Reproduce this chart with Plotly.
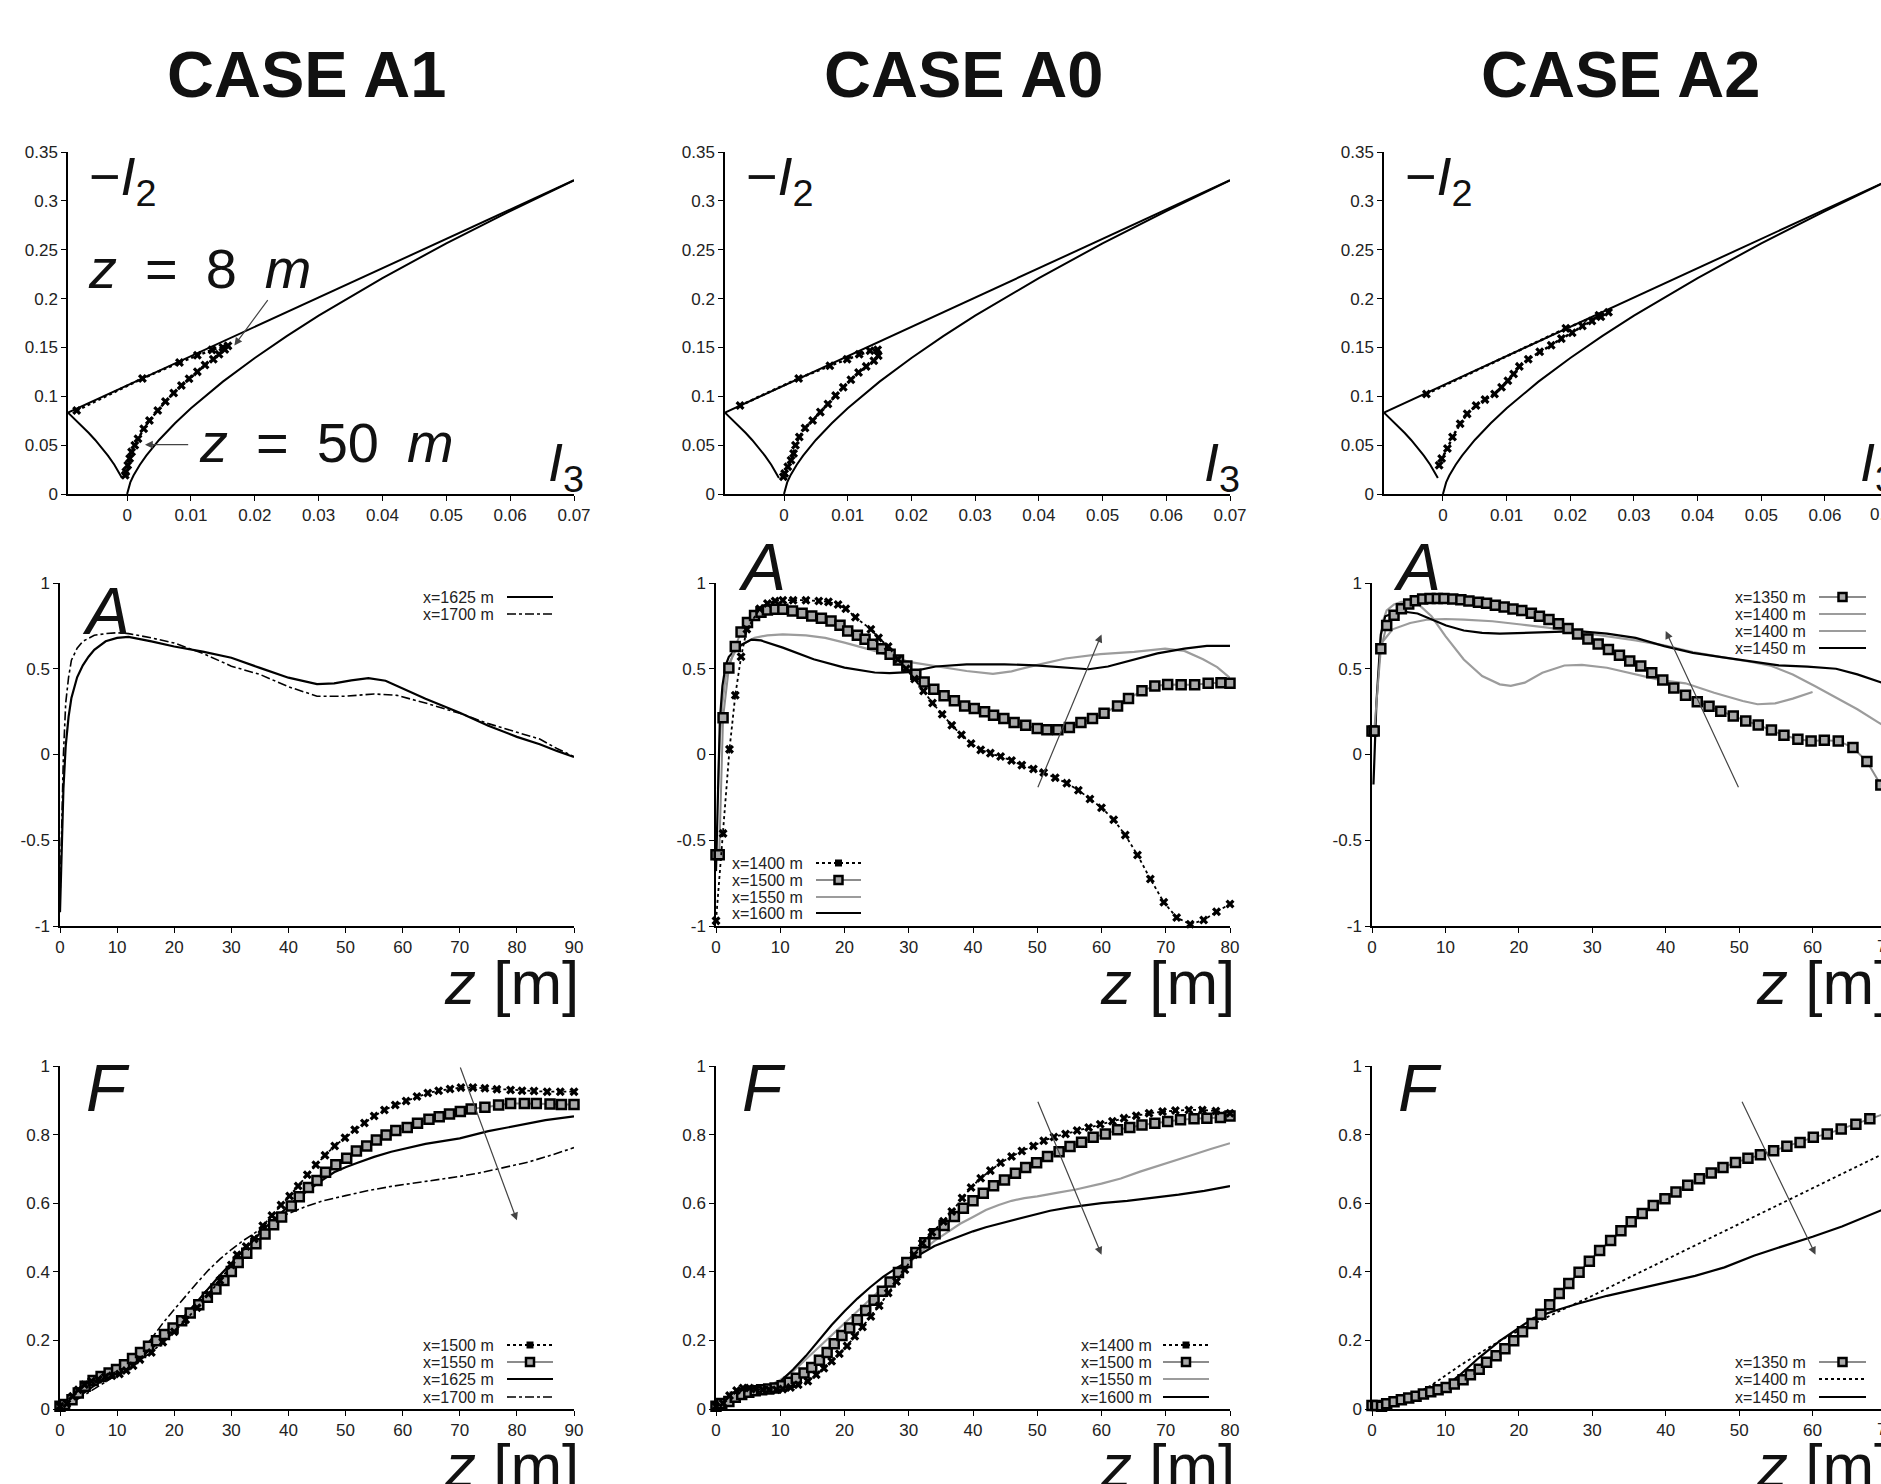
import plotly.graph_objects as go

W, H = 1881, 1484
FONT = "Liberation Sans, Arial, Helvetica, sans-serif"

# ===================== DATA =====================
# ---- Lumley triangle boundaries (I3, -I2) ----
tri_left_I3 = [-0.00926, -0.008, -0.007, -0.006, -0.005, -0.004, -0.003, -0.002, -0.0015, -0.0008]
tri_left_mI2 = [0.0833, 0.0756, 0.0692, 0.0624, 0.0553, 0.0476, 0.0393, 0.0300, 0.0248, 0.0163]
tri_right_I3 = [0.0, 0.0005, 0.001, 0.002, 0.003, 0.005, 0.0075, 0.01, 0.015, 0.02, 0.025, 0.03, 0.04, 0.05, 0.06, 0.07]
tri_right_mI2 = [0.0, 0.0119, 0.0189, 0.0300, 0.0393, 0.0553, 0.0724, 0.0877, 0.1150, 0.1392, 0.1616, 0.1825, 0.2210, 0.2565, 0.2896, 0.3210]
tri_top_I3 = [-0.00926, 0.07]
tri_top_mI2 = [0.0833, 0.3211]

# ---- invariant-map trajectories ----
traj_A1_I3 = [-0.0079, 0.0024, 0.0082, 0.011, 0.0133, 0.015, 0.0158, 0.0153, 0.0144, 0.0135, 0.0122, 0.011, 0.0097,
              0.0085, 0.0073, 0.006, 0.0048, 0.0035, 0.0026, 0.0017, 0.0012, 0.0007, 0.0004, 0.0001, -0.0002, -0.0003]
traj_A1_mI2 = [0.0855, 0.1183, 0.1346, 0.142, 0.1475, 0.150, 0.1516, 0.148, 0.143, 0.138, 0.132, 0.125, 0.118,
               0.111, 0.1034, 0.0946, 0.0855, 0.0753, 0.0668, 0.0566, 0.0498, 0.0431, 0.0363, 0.0295, 0.0227, 0.0193]
traj_A0_I3 = [-0.0069, 0.0023, 0.0072, 0.0099, 0.0118, 0.0135, 0.0147, 0.0148, 0.0141, 0.0129, 0.0117, 0.0105, 0.0093,
              0.0081, 0.0069, 0.0057, 0.0045, 0.0033, 0.0024, 0.0018, 0.0015, 0.0011, 0.0006, 0.0001, -0.0001]
traj_A0_mI2 = [0.0905, 0.1183, 0.1312, 0.138, 0.143, 0.1465, 0.1475, 0.1414, 0.1363, 0.1306, 0.1244, 0.117, 0.1092,
               0.1007, 0.0922, 0.0838, 0.0753, 0.0675, 0.0583, 0.0498, 0.0414, 0.0346, 0.0278, 0.021, 0.0176]
traj_A2_I3 = [-0.0026, 0.0193, 0.0245, 0.026, 0.0248, 0.0234, 0.0219, 0.0203, 0.0186, 0.017, 0.0152, 0.0134, 0.012,
              0.0111, 0.0102, 0.0092, 0.0081, 0.0066, 0.0052, 0.0038, 0.0027, 0.0015, 0.0007, -0.0002, -0.0006]
traj_A2_mI2 = [0.1024, 0.1695, 0.183, 0.186, 0.1814, 0.177, 0.172, 0.165, 0.159, 0.1523, 0.1455, 0.138, 0.1306,
               0.1228, 0.116, 0.1092, 0.1024, 0.0966, 0.0905, 0.082, 0.0719, 0.0583, 0.0465, 0.0363, 0.0295]

# ---- A(z), case A1 ----
A1_A_z1625 = [0, 0.3, 0.6, 1.0, 1.5, 2, 3, 4, 5, 6, 8, 10, 12, 16, 20, 25, 30, 35, 40, 45, 48, 51, 54, 57, 60, 64, 70, 75, 80, 84, 87, 90]
A1_A_1625 = [-0.92, -0.6, -0.2, 0.05, 0.22, 0.33, 0.45, 0.52, 0.57, 0.61, 0.66, 0.68, 0.686, 0.66, 0.63, 0.60, 0.564, 0.505,
             0.448, 0.41, 0.415, 0.432, 0.445, 0.43, 0.385, 0.325, 0.244, 0.167, 0.103, 0.06, 0.021, -0.015]
A1_A_z1700 = [0, 0.3, 0.6, 1.0, 1.5, 2, 3, 4, 5, 6, 8, 10, 12, 16, 20, 25, 30, 35, 40, 45, 50, 55, 59, 64, 70, 75, 80, 84, 87, 90]
A1_A_1700 = [-0.85, -0.4, 0.0, 0.3, 0.45, 0.55, 0.62, 0.66, 0.68, 0.695, 0.705, 0.71, 0.705, 0.68, 0.65, 0.59, 0.515, 0.467,
             0.395, 0.34, 0.34, 0.353, 0.345, 0.30, 0.24, 0.18, 0.13, 0.09, 0.035, -0.012]

# ---- A(z), case A0 ----
A0_A_z1400 = [0, 1.1, 2.1, 3.0, 3.9, 4.8, 6.8, 8.0, 9.2, 10.4, 12, 14, 16, 17.5, 19, 20.2, 21.7, 24.1, 25.3, 26.8,
              28.3, 29.6, 30.9, 32.3, 33.7, 35.2, 36.7, 38.2, 39.7, 41.2, 42.7, 44.3, 46, 47.6, 49.4, 51, 52.8, 54.6,
              56.4, 58.2, 60, 61.9, 63.7, 65.6, 67.6, 69.7, 71.7, 73.8, 75.9, 77.9, 80]
A0_A_1400 = [-0.97, -0.46, 0.03, 0.345, 0.57, 0.73, 0.85, 0.88, 0.895, 0.9, 0.9, 0.9, 0.895, 0.89, 0.875, 0.85, 0.80,
             0.73, 0.68, 0.63, 0.555, 0.50, 0.44, 0.37, 0.30, 0.235, 0.17, 0.115, 0.064, 0.027, 0.008, -0.012, -0.035,
             -0.062, -0.085, -0.105, -0.136, -0.167, -0.208, -0.26, -0.31, -0.38, -0.47, -0.586, -0.726, -0.862,
             -0.95, -0.99, -0.965, -0.917, -0.872]
A0_A_z1500 = [0, 0.5, 1.1, 2, 3, 3.9, 4.9, 6, 7, 8, 9.2, 10.4, 11.9, 13.4, 14.9, 16.4, 17.9, 19.3, 20.5, 22, 23.2, 24.4,
              25.8, 27.1, 28.4, 29.7, 31.1, 32.4, 33.9, 35.5, 37.1, 38.7, 40.2, 41.8, 43.2, 44.8, 46.4, 48.2, 50, 51.5,
              53.2, 55, 56.8, 58.6, 60.4, 62.5, 64.2, 66.3, 68.3, 70.3, 72.4, 74.5, 76.6, 78.6, 80]
A0_A_1500 = [-0.585, -0.585, 0.215, 0.505, 0.63, 0.715, 0.77, 0.81, 0.83, 0.843, 0.847, 0.847, 0.837, 0.823, 0.808,
             0.794, 0.779, 0.753, 0.72, 0.695, 0.672, 0.643, 0.617, 0.584, 0.551, 0.516, 0.468, 0.423, 0.38, 0.342,
             0.313, 0.283, 0.268, 0.249, 0.229, 0.21, 0.186, 0.171, 0.151, 0.144, 0.144, 0.157, 0.186, 0.21, 0.241,
             0.283, 0.326, 0.371, 0.40, 0.408, 0.406, 0.406, 0.416, 0.419, 0.415]
A0_A_z1550 = [0.3, 0.6, 1, 1.5, 2, 3, 4, 6, 8, 10.4, 14, 17, 20, 24.7, 30, 34.2, 39, 43.1, 46, 49.7, 54.4, 59.8, 65.1,
              69.9, 72.9, 75.8, 78, 80]
A0_A_1550 = [-0.2, 0.1, 0.3, 0.45, 0.53, 0.6, 0.64, 0.68, 0.695, 0.70, 0.695, 0.68, 0.652, 0.604, 0.54, 0.516, 0.487,
             0.47, 0.485, 0.52, 0.56, 0.585, 0.598, 0.617, 0.604, 0.555, 0.51, 0.447]
A0_A_z1600 = [0, 0.3, 0.6, 1, 1.5, 2, 3, 4, 5.5, 7, 10.4, 15.2, 20, 24.7, 27, 30, 34.2, 39, 44.9, 49.7, 54.4, 58, 61,
              64.5, 68.7, 72.9, 76.4, 80]
A0_A_1600 = [-0.68, -0.2, 0.2, 0.4, 0.52, 0.57, 0.61, 0.64, 0.67, 0.665, 0.623, 0.555, 0.507, 0.478, 0.474, 0.48, 0.513,
             0.526, 0.526, 0.52, 0.507, 0.497, 0.513, 0.55, 0.59, 0.617, 0.633, 0.633]

# ---- A(z), case A2 ----
A2_A_z1350 = [0, 0.3, 1.2, 2, 3, 4, 5, 5.9, 6.9, 7.9, 8.9, 9.8, 11, 12.1, 13.2, 14.5, 15.6, 16.8, 18, 19.2, 20.4, 21.7,
              22.8, 24.1, 25.4, 26.7, 28, 29.4, 30.8, 32.2, 33.7, 35.1, 36.6, 38.1, 39.6, 41.1, 42.7, 44.3, 45.9, 47.5,
              49.2, 50.9, 52.6, 54.4, 56.1, 58, 59.8, 61.6, 63.5, 65.5, 67.4, 69.3]
A2_A_1350 = [0.137, 0.137, 0.616, 0.752, 0.812, 0.85, 0.878, 0.897, 0.907, 0.91, 0.91, 0.91, 0.907, 0.903, 0.895, 0.888,
             0.882, 0.87, 0.86, 0.849, 0.839, 0.824, 0.806, 0.787, 0.762, 0.734, 0.703, 0.674, 0.645, 0.612, 0.578,
             0.545, 0.516, 0.477, 0.434, 0.388, 0.345, 0.308, 0.281, 0.252, 0.225, 0.196, 0.172, 0.143, 0.112, 0.089,
             0.079, 0.083, 0.079, 0.041, -0.041, -0.178]
A2_A_z1400a = [1, 1.5, 2, 3, 4, 6, 8.1, 10, 12.5, 15, 17.4, 18.9, 20.8, 23.2, 26.2, 28.6, 32, 35.9, 39.3, 42.7, 46.6,
               50.5, 52.5, 54.9, 57.3, 60]
A2_A_1400a = [0.62, 0.78, 0.84, 0.875, 0.89, 0.888, 0.806, 0.69, 0.554, 0.457, 0.409, 0.40, 0.419, 0.477, 0.519, 0.523,
              0.506, 0.467, 0.434, 0.415, 0.36, 0.312, 0.293, 0.298, 0.326, 0.364]
A2_A_z1400b = [1, 1.3, 2.8, 5.2, 7.6, 10, 12.5, 16.4, 20.3, 24.2, 28.1, 32, 35.9, 39.8, 43.7, 47.6, 51.5, 54.4, 57.3,
               60.3, 63.2, 66.1, 69, 70]
A2_A_1400b = [0.6, 0.65, 0.73, 0.767, 0.787, 0.79, 0.787, 0.777, 0.758, 0.738, 0.713, 0.69, 0.665, 0.636, 0.597, 0.568,
              0.541, 0.516, 0.467, 0.40, 0.331, 0.264, 0.186, 0.16]
A2_A_z1450 = [0.2, 0.6, 1.2, 1.8, 3.3, 4.7, 6.2, 8.1, 10.1, 12.5, 15, 17.4, 20.3, 24.2, 28.1, 32, 35.9, 39.8, 43.7, 47.6,
              51.5, 55.4, 59.3, 63.2, 66.1, 69.4]
A2_A_1450 = [-0.175, 0.3, 0.7, 0.806, 0.83, 0.831, 0.822, 0.79, 0.752, 0.723, 0.709, 0.705, 0.709, 0.717, 0.719, 0.705,
             0.68, 0.632, 0.593, 0.568, 0.545, 0.52, 0.512, 0.5, 0.467, 0.419]

# ---- F(z), case A1 ----
A1_F_z1500 = [0, 1.2, 2.2, 3.2, 4.3, 5.5, 6.7, 7.9, 9.1, 10.4, 11.6, 12.8, 14, 16, 18, 20, 22, 24, 26, 28, 30, 31, 32.6,
              34, 35.5, 37.1, 38.7, 40.2, 41.7, 43.3, 44.8, 46.4, 48.1, 49.9, 51.6, 53.3, 55, 56.8, 58.7, 60.6, 62.5,
              64.4, 66.3, 68.3, 70.2, 72.3, 74.4, 76.5, 78.9, 80.9, 83, 85.3, 87.6, 90]
A1_F_1500 = [0.008, 0.015, 0.037, 0.056, 0.071, 0.081, 0.087, 0.093, 0.097, 0.102, 0.112, 0.126, 0.144, 0.165, 0.195,
             0.225, 0.26, 0.295, 0.335, 0.375, 0.42, 0.45, 0.474, 0.496, 0.534, 0.564, 0.595, 0.621, 0.65, 0.683,
             0.712, 0.74, 0.767, 0.791, 0.814, 0.834, 0.854, 0.872, 0.886, 0.898, 0.911, 0.921, 0.928, 0.933, 0.937,
             0.937, 0.935, 0.932, 0.930, 0.928, 0.927, 0.925, 0.925, 0.925]
A1_F_z1550 = [0, 0.8, 2.1, 3.2, 4.4, 5.8, 7.2, 8.6, 9.9, 11.3, 12.7, 14.1, 15.5, 16.9, 18.3, 19.8, 21.3, 22.8, 24.3,
              25.8, 27.3, 28.7, 30, 31.2, 32.7, 34.3, 35.9, 37.4, 38.8, 40.5, 41.9, 43.5, 45, 46.5, 48.3, 50.2, 51.9,
              53.7, 55.4, 57.1, 58.8, 60.8, 62.6, 64.6, 66.4, 68.2, 70.1, 72, 74.4, 76.8, 78.9, 81.3, 83.4, 85.8, 87.8, 90]
A1_F_1550 = [0.008, 0.013, 0.027, 0.047, 0.066, 0.083, 0.095, 0.105, 0.115, 0.129, 0.147, 0.165, 0.183, 0.199, 0.217,
             0.236, 0.257, 0.28, 0.304, 0.326, 0.35, 0.375, 0.401, 0.427, 0.454, 0.482, 0.51, 0.537, 0.56, 0.592,
             0.619, 0.646, 0.666, 0.69, 0.712, 0.731, 0.752, 0.767, 0.784, 0.799, 0.812, 0.821, 0.833, 0.845, 0.852,
             0.86, 0.867, 0.875, 0.88, 0.886, 0.891, 0.891, 0.891, 0.889, 0.888, 0.888]
A1_F_z1625 = [0, 2, 4, 6, 8, 10, 12, 14, 16, 18, 20, 22, 24, 26, 28, 30, 32, 34, 36, 38, 40, 42, 44, 46, 48, 50, 52, 55,
              58, 61, 64, 67, 70, 75, 80, 85, 90]
A1_F_1625 = [0.005, 0.02, 0.045, 0.068, 0.088, 0.107, 0.127, 0.149, 0.175, 0.207, 0.24, 0.275, 0.313, 0.352, 0.39,
             0.425, 0.46, 0.498, 0.53, 0.56, 0.592, 0.62, 0.645, 0.668, 0.69, 0.705, 0.717, 0.735, 0.75, 0.762, 0.773,
             0.781, 0.789, 0.81, 0.827, 0.842, 0.853]
A1_F_z1700 = [0, 2, 4, 6, 8, 10, 12, 14, 16, 18, 20, 22, 24, 26, 28, 30, 32, 34, 36, 38, 40, 43, 46, 50, 54, 58, 62, 66,
              70, 74, 78, 82, 86, 90]
A1_F_1700 = [0.003, 0.018, 0.038, 0.058, 0.078, 0.1, 0.13, 0.165, 0.205, 0.25, 0.29, 0.33, 0.368, 0.405, 0.437, 0.465,
             0.49, 0.512, 0.535, 0.555, 0.57, 0.59, 0.607, 0.622, 0.637, 0.649, 0.658, 0.667, 0.678, 0.69, 0.705, 0.72,
             0.74, 0.762]

# ---- F(z), case A0 ----
A0_F_z1400 = [0, 1.1, 2.1, 3.2, 4.2, 5.2, 6.2, 7.3, 8.3, 9.4, 10.4, 11.6, 12.8, 14.3, 15.6, 16.8, 18, 19.2, 20.4, 21.6,
              22.8, 24.1, 25.4, 26.8, 28.1, 29.4, 30.8, 32.1, 33.6, 35.4, 36.7, 38.3, 39.7, 41.2, 42.7, 44.3, 46, 47.6,
              49.4, 51, 52.6, 54.4, 56.2, 58, 59.8, 61.7, 63.5, 65.4, 67.4, 69.5, 71.5, 73.6, 75.7, 77.8, 80]
A0_F_1400 = [0.008, 0.017, 0.039, 0.054, 0.061, 0.061, 0.058, 0.056, 0.056, 0.056, 0.058, 0.063, 0.071, 0.081, 0.1,
             0.119, 0.139, 0.161, 0.184, 0.212, 0.239, 0.27, 0.301, 0.338, 0.372, 0.406, 0.45, 0.483, 0.515, 0.547,
             0.576, 0.615, 0.646, 0.673, 0.695, 0.718, 0.736, 0.752, 0.767, 0.782, 0.793, 0.802, 0.812, 0.821, 0.83,
             0.839, 0.848, 0.855, 0.862, 0.867, 0.87, 0.872, 0.872, 0.869, 0.862]
A0_F_z1500 = [0, 0.9, 2, 3, 4, 5.1, 6.1, 7.1, 8.2, 9.2, 10.3, 11.4, 12.5, 13.7, 14.9, 16.1, 17.3, 18.4, 19.6, 20.8, 22,
              23.3, 24.6, 25.9, 27.1, 28.4, 29.7, 31.1, 32.5, 34.1, 35.5, 37.1, 38.5, 40, 41.6, 43.2, 44.9, 46.6, 48.2,
              49.9, 51.6, 53.4, 55.1, 56.9, 58.7, 60.6, 62.5, 64.4, 66.3, 68.3, 70.3, 72.3, 74.4, 76.4, 78.5, 80]
A0_F_1500 = [0.008, 0.016, 0.022, 0.034, 0.042, 0.049, 0.053, 0.056, 0.058, 0.061, 0.068, 0.078, 0.09, 0.105, 0.121,
             0.142, 0.165, 0.19, 0.214, 0.236, 0.26, 0.287, 0.317, 0.343, 0.37, 0.398, 0.427, 0.456, 0.485, 0.511,
             0.535, 0.561, 0.585, 0.607, 0.629, 0.651, 0.668, 0.687, 0.704, 0.718, 0.736, 0.75, 0.765, 0.778, 0.792,
             0.802, 0.814, 0.821, 0.828, 0.833, 0.838, 0.843, 0.846, 0.848, 0.85, 0.854]
A0_F_z1550 = [0, 3, 6, 8, 10, 12, 14, 16, 18, 20, 22, 24, 26, 28, 30, 32, 34, 36, 38, 40, 42, 44, 46, 48, 50, 53, 56, 60,
              63, 66, 70, 74, 77, 80]
A0_F_1550 = [0.01, 0.03, 0.055, 0.065, 0.085, 0.11, 0.145, 0.18, 0.215, 0.25, 0.285, 0.32, 0.355, 0.385, 0.425, 0.46,
             0.49, 0.515, 0.54, 0.56, 0.58, 0.595, 0.607, 0.615, 0.62, 0.63, 0.64, 0.657, 0.672, 0.692, 0.715, 0.74,
             0.758, 0.775]
A0_F_z1600 = [0, 3, 6, 8, 10, 12, 14, 16, 18, 20, 22, 24, 26, 28, 30, 32, 34, 36, 38, 40, 42, 44, 46, 48, 50, 52, 55, 58,
              60, 64, 68, 72, 76, 80]
A0_F_1600 = [0.01, 0.03, 0.052, 0.065, 0.08, 0.115, 0.155, 0.2, 0.245, 0.285, 0.322, 0.355, 0.385, 0.41, 0.432, 0.455,
             0.475, 0.49, 0.505, 0.518, 0.53, 0.54, 0.55, 0.56, 0.57, 0.578, 0.588, 0.596, 0.6, 0.607, 0.615, 0.625,
             0.636, 0.65]

# ---- F(z), case A2 ----
A2_F_z1350 = [0, 0.6, 1.3, 2, 3, 4, 5, 6, 7, 8, 9, 10.1, 11.2, 12.4, 13.4, 14.6, 15.6, 16.9, 18.1, 19.3, 20.5, 21.8, 23,
              24.2, 25.5, 26.8, 28.2, 29.6, 31, 32.5, 33.9, 35.3, 36.8, 38.3, 39.9, 41.4, 43, 44.6, 46.2, 47.8, 49.5,
              51.2, 52.9, 54.7, 56.5, 58.3, 60.1, 62, 63.9, 65.9, 67.8, 69.7]
A2_F_1350 = [0.01, 0.01, 0.008, 0.015, 0.021, 0.027, 0.032, 0.037, 0.044, 0.05, 0.056, 0.063, 0.073, 0.085, 0.1, 0.116,
             0.136, 0.155, 0.176, 0.199, 0.225, 0.249, 0.276, 0.304, 0.337, 0.366, 0.399, 0.431, 0.462, 0.491, 0.52,
             0.546, 0.57, 0.593, 0.613, 0.633, 0.652, 0.671, 0.688, 0.704, 0.719, 0.731, 0.741, 0.753, 0.766, 0.777,
             0.792, 0.802, 0.816, 0.83, 0.846, 0.86]
A2_F_z1400 = [0, 2, 4, 6, 8, 10, 12, 14.6, 17.5, 20.4, 22.4, 25, 30, 35, 40, 45, 50, 55, 60, 65, 70]
A2_F_1400 = [0.005, 0.012, 0.025, 0.045, 0.068, 0.097, 0.127, 0.162, 0.2, 0.233, 0.252, 0.28, 0.33, 0.383, 0.435,
             0.488, 0.54, 0.592, 0.644, 0.696, 0.748]
A2_F_z1450 = [0, 2, 4, 6, 8, 10, 12, 14.6, 17.5, 20.4, 22, 25, 28, 32, 36, 40, 44, 48, 52, 56, 60, 64, 67, 70]
A2_F_1450 = [0.005, 0.01, 0.02, 0.035, 0.048, 0.065, 0.1, 0.15, 0.2, 0.242, 0.265, 0.287, 0.307, 0.33, 0.35, 0.368,
             0.388, 0.413, 0.447, 0.475, 0.502, 0.532, 0.558, 0.585]

# ---- tick labels ----
I3_ticks = [0, 0.01, 0.02, 0.03, 0.04, 0.05, 0.06, 0.07]
I3_text = ["0", "0.01", "0.02", "0.03", "0.04", "0.05", "0.06", "0.07"]
I2_ticks = [0, 0.05, 0.1, 0.15, 0.2, 0.25, 0.3, 0.35]
I2_text = ["0", "0.05", "0.1", "0.15", "0.2", "0.25", "0.3", "0.35"]
A_ticks = [-1, -0.5, 0, 0.5, 1]
A_text = ["-1", "-0.5", "0", "0.5", "1"]
F_ticks = [0, 0.2, 0.4, 0.6, 0.8, 1]
F_text = ["0", "0.2", "0.4", "0.6", "0.8", "1"]
z_ticks = [0, 10, 20, 30, 40, 50, 60, 70, 80, 90]
z_text = ["0", "10", "20", "30", "40", "50", "60", "70", "80", "90"]
case_titles = ["CASE A1", "CASE A0", "CASE A2"]

# ===================== FIGURE =====================
fig = go.Figure()


def names(k):
    return ("x" if k == 1 else f"x{k}", "y" if k == 1 else f"y{k}")


STYLES = {
    "tri": dict(mode="lines", line=dict(color="black", width=2)),
    "traj": dict(mode="lines+markers", line=dict(color="black", width=2.5, dash="dot"),
                 marker=dict(symbol="x", size=8, color="black")),
    "star": dict(mode="lines+markers", line=dict(color="black", width=1.8, dash="dot"),
                 marker=dict(symbol="x", size=8, color="black")),
    "square": dict(mode="lines+markers", line=dict(color="#8c8c8c", width=2),
                   marker=dict(symbol="square", size=9, color="#a8a8a8", line=dict(width=2.5, color="black"))),
    "gray": dict(mode="lines", line=dict(color="#9c9c9c", width=2.2)),
    "black": dict(mode="lines", line=dict(color="black", width=2.2)),
    "dashdot": dict(mode="lines", line=dict(color="black", width=1.6, dash="dashdot")),
    "dotted": dict(mode="lines", line=dict(color="black", width=1.8, dash="dot")),
}


def add(k, x, y, style):
    xa, ya = names(k)
    fig.add_trace(go.Scatter(x=x, y=y, xaxis=xa, yaxis=ya, hoverinfo="skip", cliponaxis=False,
                             showlegend=False, **STYLES[style]))


# Row 1: invariant maps
for k, (ti3, ti2) in zip([1, 2, 3], [(traj_A1_I3, traj_A1_mI2), (traj_A0_I3, traj_A0_mI2), (traj_A2_I3, traj_A2_mI2)]):
    add(k, tri_top_I3, tri_top_mI2, "tri")
    add(k, tri_left_I3, tri_left_mI2, "tri")
    add(k, tri_right_I3, tri_right_mI2, "tri")
    add(k, ti3, ti2, "traj")

# Row 2: A
add(4, A1_A_z1625, A1_A_1625, "black")
add(4, A1_A_z1700, A1_A_1700, "dashdot")
add(5, A0_A_z1550, A0_A_1550, "gray")
add(5, A0_A_z1600, A0_A_1600, "black")
add(5, A0_A_z1500, A0_A_1500, "square")
add(5, A0_A_z1400, A0_A_1400, "star")
add(6, A2_A_z1400a, A2_A_1400a, "gray")
add(6, A2_A_z1400b, A2_A_1400b, "gray")
add(6, A2_A_z1450, A2_A_1450, "black")
add(6, A2_A_z1350, A2_A_1350, "square")

# Row 3: F
add(7, A1_F_z1625, A1_F_1625, "black")
add(7, A1_F_z1700, A1_F_1700, "dashdot")
add(7, A1_F_z1550, A1_F_1550, "square")
add(7, A1_F_z1500, A1_F_1500, "star")
add(8, A0_F_z1550, A0_F_1550, "gray")
add(8, A0_F_z1600, A0_F_1600, "black")
add(8, A0_F_z1500, A0_F_1500, "square")
add(8, A0_F_z1400, A0_F_1400, "star")
add(9, A2_F_z1400, A2_F_1400, "dotted")
add(9, A2_F_z1450, A2_F_1450, "black")
add(9, A2_F_z1350, A2_F_1350, "square")

# ---------------- axes ----------------
TICKFONT = dict(family=FONT, size=17, color="#222")
# (k, x0px, x1px, ybot_px, ytop_px, xrange, yrange, xticks, xtext, yticks, ytext)
PANELS = [
    (1, 68, 574, 494, 152, [-0.00926, 0.07], [0, 0.35], I3_ticks, I3_text, I2_ticks, I2_text),
    (2, 725, 1230, 494, 152, [-0.00926, 0.07], [0, 0.35], I3_ticks, I3_text, I2_ticks, I2_text),
    (3, 1384, 1881, 494, 152, [-0.00926, 0.0688], [0, 0.35], I3_ticks, I3_text, I2_ticks, I2_text),
    (4, 60, 574, 926, 583, [0, 90], [-1, 1], z_ticks, z_text, A_ticks, A_text),
    (5, 716, 1230, 926, 583, [0, 80], [-1, 1], z_ticks, z_text, A_ticks, A_text),
    (6, 1372, 1881, 926, 583, [0, 69.32], [-1, 1], z_ticks, z_text, A_ticks, A_text),
    (7, 60, 574, 1409, 1066, [0, 90], [0, 1], z_ticks, z_text, F_ticks, F_text),
    (8, 716, 1230, 1409, 1066, [0, 80], [0, 1], z_ticks, z_text, F_ticks, F_text),
    (9, 1372, 1881, 1409, 1066, [0, 69.32], [0, 1], z_ticks, z_text, F_ticks, F_text),
]
layout_axes = {}
for k, x0, x1, yb, yt, xr, yr, xtv, xtt, ytv, ytt in PANELS:
    xa, ya = names(k)
    common = dict(showline=True, linecolor="black", linewidth=1.5, ticks="outside", ticklen=5, tickwidth=1.2,
                  tickcolor="black", tickfont=TICKFONT, showgrid=False, zeroline=False, tickmode="array",
                  automargin=False, fixedrange=True)
    layout_axes["xaxis" if k == 1 else f"xaxis{k}"] = dict(domain=[x0 / W, x1 / W], range=xr, anchor=ya,
                                                          tickvals=xtv, ticktext=xtt, **common)
    layout_axes["yaxis" if k == 1 else f"yaxis{k}"] = dict(domain=[1 - yb / H, 1 - yt / H], range=yr, anchor=xa,
                                                          tickvals=ytv, ticktext=ytt, **common)

fig.update_layout(width=W, height=H, margin=dict(l=0, r=0, t=0, b=0, pad=0), autosize=False,
                  paper_bgcolor="white", plot_bgcolor="white", showlegend=False, **layout_axes)


def P(xp, yp):
    return xp / W, 1 - yp / H


def text(xp, yp, s, size, xanchor="center", yanchor="middle", bold=False, color="black"):
    x, y = P(xp, yp)
    fig.add_annotation(x=x, y=y, xref="paper", yref="paper", text=(f"<b>{s}</b>" if bold else s), showarrow=False,
                       xanchor=xanchor, yanchor=yanchor, font=dict(family=FONT, size=size, color=color))


# titles
for xc, t in zip([306, 963, 1620], case_titles):
    text(xc, 74, t, 65, bold=True, color="#111")

# row 1 labels
for yax, tick07 in [(68, 574), (725, 1230), (1384, 1886)]:
    text(yax + 19, 180, "\u2212<i>I</i><sub>2</sub>", 54, xanchor="left", color="#111")
    text(tick07 - 28, 466, "<i>I</i><sub>3</sub>", 54, xanchor="left", color="#111")
text(200, 268, "<i>z</i>\u2002=\u20028\u2002<i>m</i>", 56, color="#111")
text(326, 443, "<i>z</i>\u2002=\u200250\u2002<i>m</i>", 56, color="#111")

# row 2/3 big labels
text(106, 611, "<i>A</i>", 66, color="#111")
text(762, 567, "<i>A</i>", 66, color="#111")
text(1417, 567, "<i>A</i>", 66, color="#111")
for xc in [108, 764, 1420]:
    text(xc, 1088, "<i>F</i>", 66, color="#111")
for xc in [511, 1167, 1823]:
    text(xc, 982, "<i>z</i> [m]", 62, color="#111")
    text(xc, 1465, "<i>z</i> [m]", 62, color="#111")

# partially cut tick labels at the right edge
text(1886, 503, "0.07", 17, yanchor="top", color="#222")
text(1886, 935, "70", 17, yanchor="top", color="#222")
text(1886, 1418, "70", 17, yanchor="top", color="#222")


# arrows
def arrow(k, tail, head, color="#444", width=1.2):
    xa, ya = names(k)
    fig.add_annotation(x=head[0], y=head[1], ax=tail[0], ay=tail[1], xref=xa, yref=ya, axref=xa, ayref=ya,
                       text="", showarrow=True, arrowhead=2, arrowsize=1.3, arrowwidth=width, arrowcolor=color)


arrow(1, (0.0222, 0.2), (0.0168, 0.152))
arrow(1, (0.0098, 0.0505), (0.0028, 0.0505))
arrow(5, (50, -0.2), (60, 0.70))
arrow(6, (50, -0.2), (40, 0.72))
arrow(7, (70, 1.0), (80, 0.55))
arrow(8, (50, 0.9), (60, 0.45))
arrow(9, (50.3, 0.9), (60.4, 0.45))

# custom gnuplot-style keys
LEG_LINE = {
    "star": dict(color="black", width=1.8, dash="dot"),
    "square": dict(color="#8c8c8c", width=2),
    "gray": dict(color="#9c9c9c", width=2.2),
    "black": dict(color="black", width=2.2),
    "dashdot": dict(color="black", width=1.6, dash="dashdot"),
    "dotted": dict(color="black", width=1.8, dash="dot"),
}


def key(text_right, s0, s1, ys, entries):
    for yp, (label, kind) in zip(ys, entries):
        text(text_right, yp, label, 16, xanchor="right", color="#222")
        x0, y0 = P(s0, yp)
        x1, _ = P(s1, yp)
        fig.add_shape(type="line", xref="paper", yref="paper", x0=x0, x1=x1, y0=y0, y1=y0, line=LEG_LINE[kind])
        xm = (s0 + s1) / 2
        if kind == "star":
            a, b = P(xm - 3.5, yp + 3.5)
            c, d = P(xm + 3.5, yp - 3.5)
            fig.add_shape(type="rect", xref="paper", yref="paper", x0=a, y0=b, x1=c, y1=d, fillcolor="black",
                          line=dict(width=0))
        if kind == "square":
            a, b = P(xm - 4, yp + 4)
            c, d = P(xm + 4, yp - 4)
            fig.add_shape(type="rect", xref="paper", yref="paper", x0=a, y0=b, x1=c, y1=d, fillcolor="#a8a8a8",
                          line=dict(width=2.5, color="black"))


key(496, 507, 553, [597, 614], [("x=1625 m", "black"), ("x=1700 m", "dashdot")])
key(805, 816, 861, [863, 880, 897, 913],
    [("x=1400 m", "star"), ("x=1500 m", "square"), ("x=1550 m", "gray"), ("x=1600 m", "black")])
key(1808, 1819, 1866, [597, 614, 631, 648],
    [("x=1350 m", "square"), ("x=1400 m", "gray"), ("x=1400 m", "gray"), ("x=1450 m", "black")])
key(496, 507, 553, [1345, 1362, 1379, 1397],
    [("x=1500 m", "star"), ("x=1550 m", "square"), ("x=1625 m", "black"), ("x=1700 m", "dashdot")])
key(1154, 1163, 1209, [1345, 1362, 1379, 1397],
    [("x=1400 m", "star"), ("x=1500 m", "square"), ("x=1550 m", "gray"), ("x=1600 m", "black")])
key(1808, 1819, 1866, [1362, 1379, 1397],
    [("x=1350 m", "square"), ("x=1400 m", "dotted"), ("x=1450 m", "black")])

fig.write_html("out.html", config={"displayModeBar": False},
               post_script="document.body.style.margin='0px';"
                           "document.body.style.overflow='hidden';"
                           "document.documentElement.style.overflow='hidden';")
